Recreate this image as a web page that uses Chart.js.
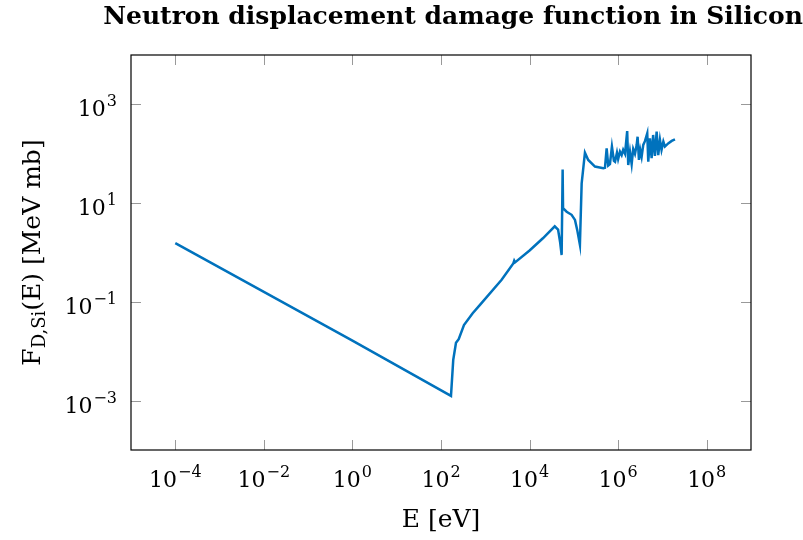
<!DOCTYPE html>
<html lang="en">
<head>
    <meta charset="UTF-8">
    <title>Neutron displacement damage function in Silicon</title>
    <script src="https://cdn.jsdelivr.net/npm/chart.js"></script>
    <style>
        body { margin: 0; background: #fff; }
    </style>
</head>
<body>
    <canvas id="damageCanvas" width="803" height="540"></canvas>

    <script>
        // Neutron energy [eV] and damage function [MeV mb]
        var energy = [
            1e-4, 1, 168, 189, 218, 251, 330, 519, 759, 2340, 4290, 4500, 4700,
            1e4, 2e4, 37000, 44000, 49000, 53000, 55800, 57000, 68700, 89000,
            106000, 119000, 137000, 150000, 178000, 211000, 300000, 462000,
            504000, 550000, 597000, 653000, 724000, 803000, 851000, 940000,
            1.0e6, 1.1e6, 1.2e6, 1.3e6, 1.43e6, 1.6e6, 1.69e6, 1.85e6, 2.02e6,
            2.19e6, 2.4e6, 2.62e6, 2.75e6, 2.95e6, 3.16e6, 3.39e6, 3.69e6,
            4.03e6, 4.54e6, 4.79e6, 5.22e6, 5.7e6, 6.17e6, 6.76e6, 7.4e6,
            8.04e6, 8.79e6, 9.55e6, 1.05e7, 1.14e7, 1.35e7, 1.62e7, 1.92e7
        ];
        var damage = [
            1.55, 0.0164, 0.00125, 0.0067, 0.0148, 0.0176, 0.034, 0.059, 0.087, 0.28, 0.60, 0.68, 0.63,
            1.1, 1.94, 3.4, 2.9, 1.6, 0.89, 48, 7.9, 6.7, 5.8,
            4.57, 2.87, 1.43, 25, 105, 75, 55, 51,
            52, 129, 58, 62, 139, 72, 69, 105,
            78, 110, 94, 120, 100, 289, 59, 110, 62,
            125, 100, 150, 221, 75, 119, 87, 151,
            180, 258, 69, 204, 81, 240, 90, 280,
            94, 191, 120, 176, 140, 162, 182, 195
        ];

        var xTicks = [1e-4, 1e-2, 1e0, 1e2, 1e4, 1e6, 1e8];
        var yTicks = [1e-3, 1e-1, 1e1, 1e3];

        var points = [];
        for (var i = 0; i < energy.length; i++) {
            points.push({ x: energy[i], y: damage[i] });
        }

        var serif = '"DejaVu Serif", serif';

        function expOf(v) {
            var e = Math.round(Math.log10(v));
            return e < 0 ? '\u2212' + (-e) : String(e);
        }

        // "10" with a raised exponent; align is 'center' or 'right'
        function drawPower(ctx, v, x, y, align) {
            var base = '10', sup = expOf(v);
            ctx.font = '22px ' + serif;
            var wb = ctx.measureText(base).width;
            ctx.font = '16px ' + serif;
            var ws = ctx.measureText(sup).width;
            var left = align === 'right' ? x - wb - ws - 1 : x - (wb + ws + 1) / 2;
            ctx.textAlign = 'left';
            ctx.textBaseline = 'alphabetic';
            ctx.font = '22px ' + serif;
            ctx.fillText(base, left, y);
            ctx.font = '16px ' + serif;
            ctx.fillText(sup, left + wb + 1, y - 10);
        }

        var frame = {
            id: 'frame',
            afterDraw: function(chart) {
                var ctx = chart.ctx, a = chart.chartArea;
                var sx = chart.scales.x, sy = chart.scales.y;
                ctx.save();
                ctx.fillStyle = '#000';

                // inside ticks, all four sides
                ctx.strokeStyle = '#999';
                ctx.lineWidth = 1;
                ctx.beginPath();
                xTicks.forEach(function(t) {
                    var px = Math.round(sx.getPixelForValue(t)) + 0.5;
                    ctx.moveTo(px, a.bottom); ctx.lineTo(px, a.bottom - 10);
                    ctx.moveTo(px, a.top); ctx.lineTo(px, a.top + 10);
                });
                yTicks.forEach(function(t) {
                    var py = Math.round(sy.getPixelForValue(t)) + 0.5;
                    ctx.moveTo(a.left, py); ctx.lineTo(a.left + 10, py);
                    ctx.moveTo(a.right, py); ctx.lineTo(a.right - 10, py);
                });
                ctx.stroke();

                // axis box
                ctx.strokeStyle = '#000';
                ctx.lineWidth = 1.2;
                ctx.strokeRect(a.left, a.top, a.right - a.left, a.bottom - a.top);

                // tick labels
                xTicks.forEach(function(t) {
                    drawPower(ctx, t, sx.getPixelForValue(t), a.bottom + 37, 'center');
                });
                yTicks.forEach(function(t) {
                    drawPower(ctx, t, a.left - 14, sy.getPixelForValue(t) + 12, 'right');
                });

                // x axis title
                ctx.textAlign = 'center';
                ctx.font = '25px ' + serif;
                ctx.fillText('E [eV]', (a.left + a.right) / 2, a.bottom + 77);

                // y axis title with subscript
                ctx.save();
                ctx.translate(40, (a.top + a.bottom) / 2);
                ctx.rotate(-Math.PI / 2);
                ctx.textAlign = 'left';
                ctx.font = '25px ' + serif;
                var wF = ctx.measureText('F').width;
                var wR = ctx.measureText('(E) [MeV mb]').width;
                ctx.font = '18px ' + serif;
                var wS = ctx.measureText('D,Si').width;
                var lx = -(wF + wS + wR) / 2;
                ctx.font = '25px ' + serif;
                ctx.fillText('F', lx, 0);
                ctx.font = '18px ' + serif;
                ctx.fillText('D,Si', lx + wF, 5);
                ctx.font = '25px ' + serif;
                ctx.fillText('(E) [MeV mb]', lx + wF + wS, 0);
                ctx.restore();

                // title
                ctx.textAlign = 'center';
                ctx.font = 'bold 25px ' + serif;
                ctx.fillText('Neutron displacement damage function in Silicon', 453, 24);
                ctx.restore();
            }
        };

        var ctx = document.getElementById('damageCanvas').getContext('2d');
        new Chart(ctx, {
            type: 'line',
            data: {
                datasets: [{
                    data: points,
                    borderColor: 'rgb(0, 114, 189)',
                    borderWidth: 2.5,
                    pointRadius: 0,
                    tension: 0,
                    fill: false
                }]
            },
            options: {
                responsive: false,
                animation: false,
                layout: { padding: { left: 131, top: 55, right: 52, bottom: 90 } },
                plugins: { legend: { display: false }, tooltip: { enabled: false } },
                scales: {
                    x: { type: 'logarithmic', min: 1e-5, max: 1e9, display: false },
                    y: { type: 'logarithmic', min: 1e-4, max: 1e4, display: false }
                }
            },
            plugins: [frame]
        });
    </script>
</body>
</html>
